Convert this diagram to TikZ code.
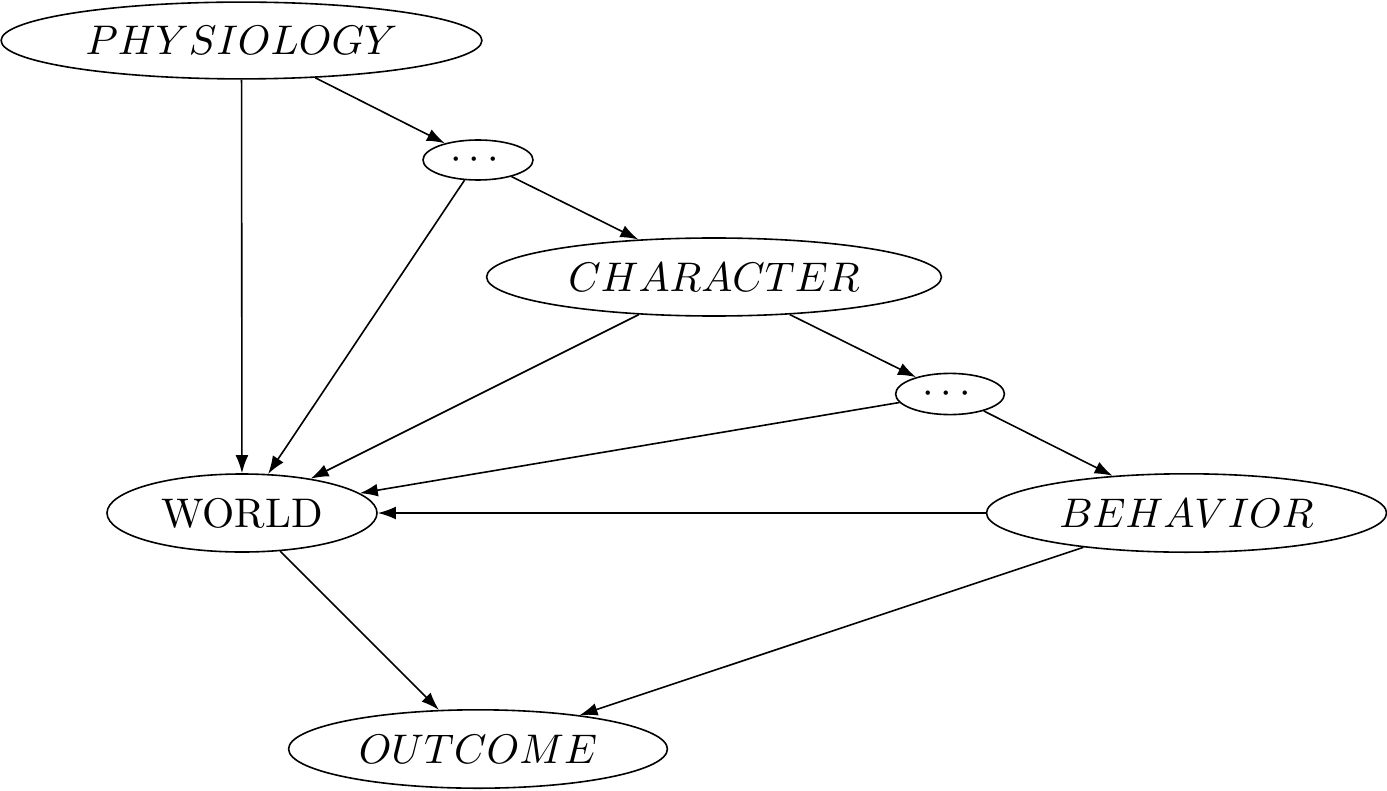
\documentclass[tikz,border=0pt]{standalone}
\usepackage{tikz}
\usepackage{amssymb}
\usepackage{mathtools}
\usetikzlibrary{shapes.geometric,arrows.meta}
\newcommand{\lbl}[1]{\scalebox{1.035}{#1}}

\begin{document}
\begin{tikzpicture}[x=0.25pt,y=-0.25pt,>={Latex[length=4.5pt,width=3.2pt]}]
            \useasboundingbox (0,0) rectangle (1387,790);
            \begin{scope}[every node/.style={ellipse,draw,inner sep=0pt}]
                \node (PHYS) [minimum width=120.2pt, minimum height=19.2pt] at (241.5, 40.5) {\lbl{$PHYSIOLOGY$}};
                \node (DOTS1) [minimum width=27.5pt, minimum height=10pt] at (478, 160) {\lbl{$\cdots$}};
                \node (CHAR) [minimum width=113.7pt, minimum height=19.5pt] at (714, 277) {\lbl{$CHARACTER$}};
                \node (DOTS2) [minimum width=27.2pt, minimum height=10.3pt] at (950, 394) {\lbl{$\cdots$}};
                \node (WORLD) [minimum width=67.5pt, minimum height=19.5pt] at (242, 513) {\lbl{WORLD}};
                \node (BEH) [minimum width=100pt, minimum height=19.6pt] at (1186.5, 513) {\lbl{$BEHAVIOR$}};
                \node (OUT) [minimum width=94.7pt, minimum height=19.6pt] at (478, 749) {\lbl{$OUTCOME$}};
            \end{scope}

            \begin{scope}[every edge/.style={draw=black,thin}]
                \path [->] (PHYS) edge (DOTS1);
                \path [->] (PHYS) edge (WORLD);
                \path [->] (DOTS1) edge (CHAR);
                \path [->] (DOTS1) edge (WORLD);
                \path [->] (CHAR) edge (DOTS2);
                \path [->] (CHAR) edge (WORLD);
                \path [->] (DOTS2) edge (BEH);
                \path [->] (DOTS2) edge (WORLD);
                \path [->] (BEH) edge (WORLD);
                \path [->] (WORLD) edge (OUT);
                \path [->] (BEH) edge (OUT);
            \end{scope}
        \end{tikzpicture}
\end{document}
